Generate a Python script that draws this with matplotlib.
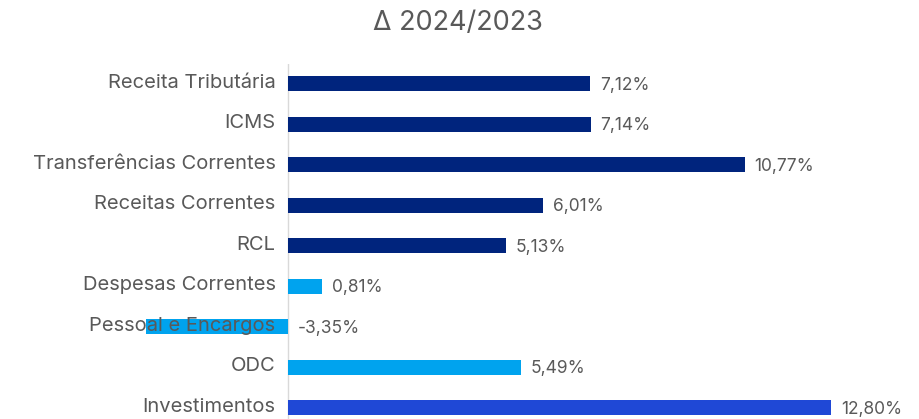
import matplotlib.pyplot as plt

plt.rcParams['font.family'] = ['Inter', 'DejaVu Sans']

categorias = ['Receita Tributária', 'ICMS', 'Transferências Correntes',
              'Receitas Correntes', 'RCL', 'Despesas Correntes',
              'Pessoal e Encargos', 'ODC', 'Investimentos']
variacao = [7.12, 7.14, 10.77, 6.01, 5.13, 0.81, -3.35, 5.49, 12.80]
cores = ['#00247D'] * 5 + ['#00A3EE'] * 3 + ['#1F48D6']

fig = plt.figure(figsize=(9.19, 4.19), dpi=100)
ax = fig.add_axes([0, -0.022, 1, 0.870])

ypos = list(range(len(categorias)))
ax.barh(ypos, variacao, height=0.37, color=cores, zorder=2)
ax.set_ylim(len(categorias) - 0.5, -0.5)
ax.set_xlim(-6.79, 14.875)
ax.axvline(0, color='#D9D9D9', lw=1, zorder=1)

for y, nome, v in zip(ypos, categorias, variacao):
    ax.annotate(nome, (0, y), xytext=(-9, 1), textcoords='offset points',
                ha='right', va='center', fontsize=14.5, color='#595959', zorder=3)
    ax.annotate(f'{v:.2f}%'.replace('.', ','), (max(v, 0), y), xytext=(7, -1),
                textcoords='offset points', ha='left', va='center',
                fontsize=12.5, color='#595959')

ax.axis('off')
fig.text(0.4985, 0.945, 'Δ 2024/2023', ha='center', va='center',
         fontsize=19.5, color='#595959')

fig.savefig('out.png', dpi=100)
